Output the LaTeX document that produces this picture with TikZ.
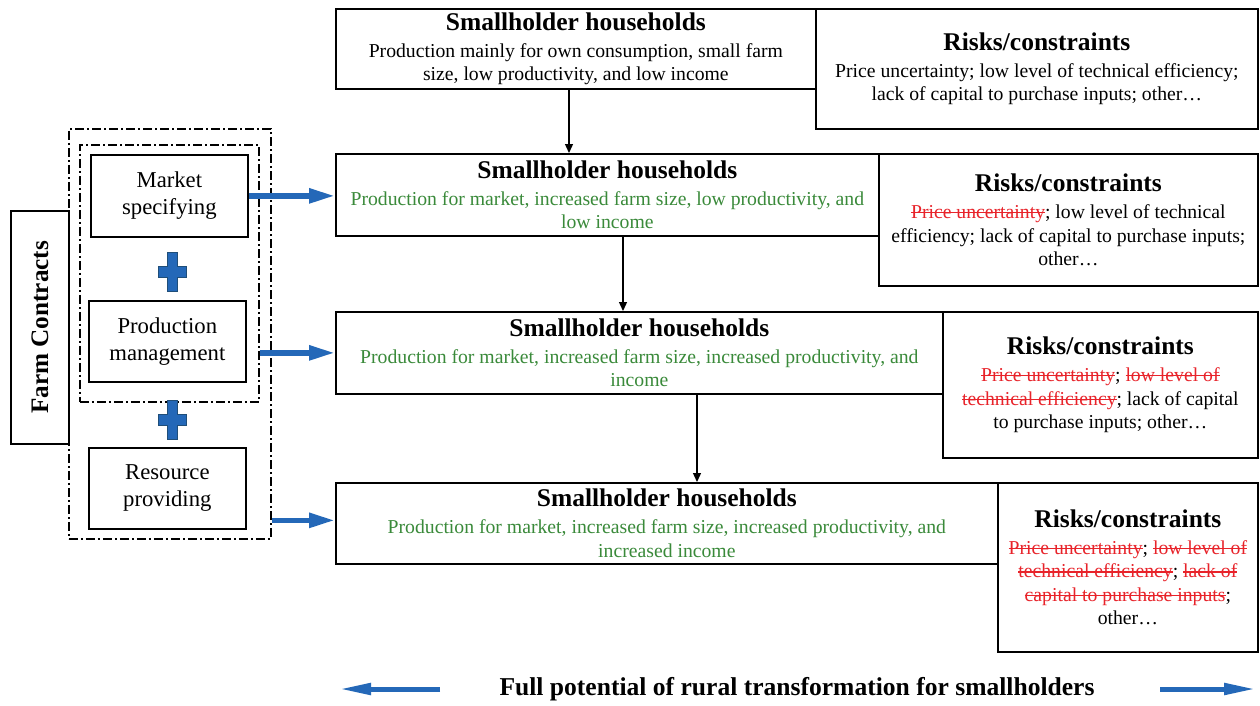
\documentclass[tikz,border=0pt]{standalone}
\usepackage{fontspec}
\setmainfont{Liberation Serif}
\usepackage{graphicx}
\usetikzlibrary{arrows.meta}
\definecolor{cgreen}{HTML}{3A8A3A}
\definecolor{cred}{HTML}{E8232A}
\definecolor{cblue}{HTML}{2468B8}
\definecolor{cbluedark}{HTML}{1F4E79}
\newsavebox{\strkbox}
\newcommand{\bodyf}{\fontsize{19.7}{23.5}\selectfont}
\newcommand{\titf}{\fontsize{25.5}{28}\selectfont\bfseries}
\newcommand{\strk}[1]{{\color{cred}\sbox{\strkbox}{#1}\rlap{\raisebox{0.27em}{\rule{\wd\strkbox}{1.1pt}}}\usebox{\strkbox}}}
\newcommand{\ttl}[1]{{\titf #1}\\[3.5pt]}
\tikzset{
  box/.style={draw=black, line width=1.7pt, anchor=north west, inner sep=0pt, align=center, font=\bodyf},
  lbox/.style={draw=black, line width=1.7pt, anchor=north west, inner sep=0pt, align=center, font=\fontsize{22.7}{27}\selectfont},
  dashdot/.style={draw=black, line width=1.5pt, dash pattern=on 9pt off 3pt on 2pt off 3pt, anchor=north west, inner sep=0pt},
  vline/.style={line width=1.3pt, -{Triangle[length=9pt,width=8pt]}},
  barrow/.style={draw=cblue, line width=5.5pt, -{Triangle[length=26pt,width=14pt]}},
  plussign/.style={fill=cblue, draw=cbluedark, line width=0.8pt},
}
\begin{document}
\begin{tikzpicture}[x=1pt,y=-1pt]
\useasboundingbox[fill=white] (0,0) rectangle (1260,705);

% main boxes
\node[box, minimum width=480pt, minimum height=80pt] (B1) at (335,8)
  {\ttl{Smallholder households}Production mainly for own consumption, small farm\\size, low productivity, and low income};
\node[box, minimum width=442pt, minimum height=120pt] (R1) at (815,8)
  {\ttl{Risks/constraints}Price uncertainty; low level of technical efficiency;\\lack of capital to purchase inputs; other…};

\node[box, minimum width=543pt, minimum height=82pt] (B2) at (335,153)
  {\ttl{Smallholder households}\color{cgreen}Production for market, increased farm size, low productivity, and\\\color{cgreen}low income};
\node[box, minimum width=379pt, minimum height=132pt] (R2) at (878,153)
  {\ttl{Risks/constraints}\strk{Price uncertainty}; low level of technical\\efficiency; lack of capital to purchase inputs;\\other…};

\node[box, minimum width=607pt, minimum height=82pt] (B3) at (335,311)
  {\ttl{Smallholder households}\color{cgreen}Production for market, increased farm size, increased productivity, and\\\color{cgreen}income};
\node[box, minimum width=315pt, minimum height=146pt] (R3) at (942,311)
  {\ttl{Risks/constraints}\strk{Price uncertainty}; \strk{low level of}\\\strk{technical efficiency}; lack of capital\\to purchase inputs; other…};

\node[box, minimum width=662pt, minimum height=81pt] (B4) at (335,482)
  {\ttl{Smallholder households}\color{cgreen}Production for market, increased farm size, increased productivity, and\\\color{cgreen}increased income};
\node[box, minimum width=260pt, minimum height=169pt] (R4) at (997,482)
  {\ttl{Risks/constraints}\strk{Price uncertainty}; \strk{low level of}\\\strk{technical efficiency}; \strk{lack of}\\\strk{capital to purchase inputs};\\other…};

% vertical arrows
\coordinate (a1) at ([xshift=234pt]B1.south west);
\coordinate (a2) at ([xshift=288pt]B2.south west);
\coordinate (a3) at ([xshift=362pt]B3.south west);
\draw[vline] (a1) -- (a1 |- B2.north);
\draw[vline] (a2) -- (a2 |- B3.north);
\draw[vline] (a3) -- (a3 |- B4.north);

% left part
\node[dashdot, minimum width=202pt, minimum height=410pt] (outer) at (68,128) {};
\node[dashdot, minimum width=179pt, minimum height=257pt] (inner) at (79,144) {};
\node[lbox, minimum width=58pt, minimum height=233pt] (FC) at (10,210) {};
\node[rotate=90, font=\fontsize{25.2}{28}\selectfont\bfseries] (FCt) at (FC.center) {Farm Contracts};

\node[lbox, minimum width=157pt, minimum height=82pt] (MS) at (90,154) {Market\\specifying};
\node[lbox, minimum width=157pt, minimum height=81pt] (PM) at (88,300) {Production\\management};
\node[lbox, minimum width=157pt, minimum height=81pt] (RP) at (88,447) {Resource\\providing};

\foreach \dy in {0,148}{
  \draw[plussign, shift={(0,\dy)}] (167,252) -- (177,252) -- (177,266) -- (186,266) -- (186,277) -- (177,277)
    -- (177,291) -- (167,291) -- (167,277) -- (158,277) -- (158,266) -- (167,266) -- cycle;
}

% blue arrows
\draw[barrow] (MS.east) -- (MS.east -| B2.west);
\draw[barrow] (B3.west -| inner.east) -- (B3.west);
\draw[barrow] ([yshift=3pt]B4.west -| outer.east) -- ([yshift=3pt]B4.west);

% bottom
\node (FP) at (797,689) {\resizebox{595pt}{\height}{\fontsize{25.7}{28}\selectfont\bfseries Full potential of rural transformation for smallholders}};
\coordinate (L1) at (440,689);
\coordinate (L2) at (339,689);
\coordinate (Q1) at (1160,689);
\coordinate (Q2) at (1256,689);
\draw[barrow, line width=5pt, -{Triangle[length=32pt,width=11pt]}] (L1) -- (L2);
\draw[barrow, line width=5pt, -{Triangle[length=32pt,width=11pt]}] (Q1) -- (Q2);
\end{tikzpicture}
\end{document}
